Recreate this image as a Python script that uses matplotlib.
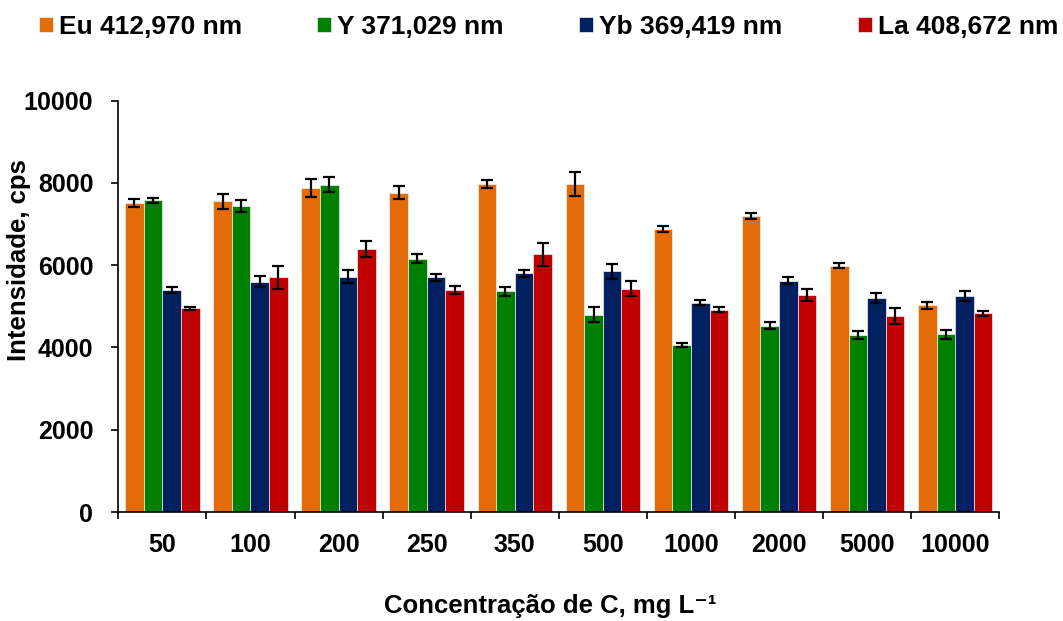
import numpy as np
import matplotlib
matplotlib.use('agg')
import matplotlib.pyplot as plt

plt.rcParams['font.family'] = ['Liberation Sans', 'DejaVu Sans']
plt.rcParams['font.weight'] = 'bold'

# data
conc = ['50', '100', '200', '250', '350', '500', '1000', '2000', '5000', '10000']
eu = [7510, 7550, 7870, 7760, 7970, 7970, 6880, 7190, 5990, 5020]
eu_err = [90, 180, 220, 160, 90, 300, 80, 70, 60, 80]
y_ = [7580, 7430, 7950, 6160, 5360, 4790, 4050, 4530, 4310, 4320]
y_err = [60, 150, 180, 100, 110, 180, 50, 90, 100, 110]
yb = [5400, 5600, 5720, 5700, 5800, 5850, 5090, 5620, 5200, 5250]
yb_err = [70, 140, 160, 80, 80, 180, 60, 85, 110, 120]
la = [4950, 5700, 6390, 5390, 6260, 5430, 4920, 5270, 4760, 4830]
la_err = [40, 270, 190, 100, 280, 190, 50, 150, 190, 55]

series = [
    ('Eu 412,970 nm', eu, eu_err, '#E36C09'),
    ('Y 371,029 nm', y_, y_err, '#008000'),
    ('Yb 369,419 nm', yb, yb_err, '#002060'),
    ('La 408,672 nm', la, la_err, '#C00000'),
]

W, H = 1063, 621
fig = plt.figure(figsize=(W / 100, H / 100), dpi=100)
ax = fig.add_axes([118.3 / W, 1 - 512 / H, 881 / W, 411.5 / H])

x = np.arange(len(conc))
w = 0.211
for i, (name, vals, errs, col) in enumerate(series):
    pos = x + (i - 1.5) * w
    ax.bar(pos, vals, width=w, color=col, edgecolor='#f0f0f0', linewidth=0.5,
           label=name, zorder=2)
    ax.errorbar(pos, vals, yerr=errs, fmt='none', ecolor='black',
                elinewidth=1.6, capsize=4.3, capthick=1.6, zorder=3)

ax.set_xlim(-0.5, len(conc) - 0.5)
ax.set_ylim(0, 10000)
ax.set_yticks(np.arange(0, 10001, 2000))
ax.set_xticks(np.arange(-0.5, len(conc), 1))
ax.set_xticklabels([])
ax.set_xticks(x, minor=True)
ax.set_xticklabels(conc, minor=True)
ax.tick_params(axis='x', which='major', direction='out', length=5, width=1.2)
ax.tick_params(axis='x', which='minor', length=0, pad=15, labelsize=18)
ax.tick_params(axis='y', direction='out', length=5, width=1.2, labelsize=18, pad=13)
for lab in ax.get_xticklabels(minor=True) + ax.get_yticklabels():
    lab.set_fontweight('bold')

ax.spines['top'].set_visible(False)
ax.spines['right'].set_visible(False)
ax.spines['left'].set_linewidth(1.2)
ax.spines['bottom'].set_linewidth(1.2)

fig.text(19 / W, 1 - 260 / H, 'Intensidade, cps', rotation=90, ha='center',
         va='center', fontsize=18.5, fontweight='bold')
fig.text(550 / W, 1 - 606 / H, 'Concentração de C, mg L⁻¹', ha='center',
         va='center', fontsize=18.5, fontweight='bold')

fig.legend(loc='center left', bbox_to_anchor=(39 / W, 1 - 27 / H), ncol=4,
           frameon=False, borderpad=0, borderaxespad=0,
           handlelength=0.53, handleheight=0.53, handletextpad=0.23,
           columnspacing=2.85, prop={'weight': 'bold', 'size': 19})

fig.savefig('out.png', dpi=100)
